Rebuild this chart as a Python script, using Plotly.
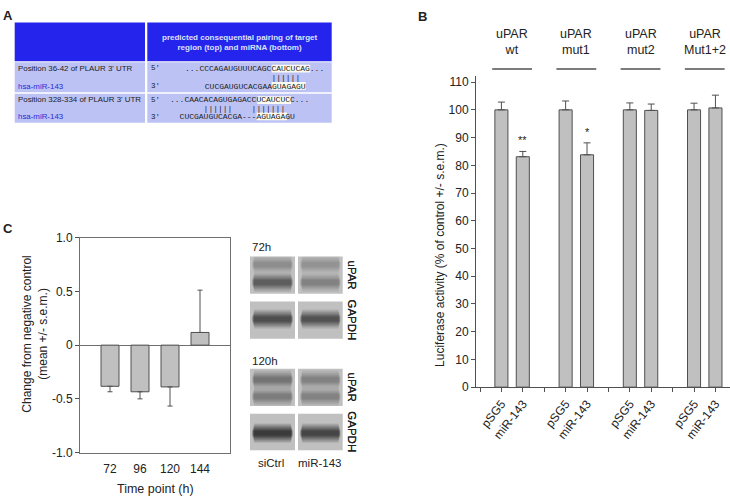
import plotly.graph_objects as go

# ---------------- data ----------------
# Panel B: luciferase reporter
groups = ["uPAR<br>wt", "uPAR<br>mut1", "uPAR<br>mut2", "uPAR<br>Mut1+2"]
treatments = ["pSG5", "miR-143"]
luc_ctrl = [100, 100, 100, 100]
luc_ctrl_err = [2.8, 3.2, 2.5, 2.4]
luc_mir = [83.1, 83.8, 99.8, 100.7]
luc_mir_err = [1.9, 4.3, 2.3, 4.6]
significance = ["**", "*", "", ""]
luc_yticks = [0, 10, 20, 30, 40, 50, 60, 70, 80, 90, 100, 110]

# Panel C: time course
time_points = ["72", "96", "120", "144"]
change = [-0.383, -0.434, -0.389, 0.118]
change_err = [0.051, 0.066, 0.178, 0.394]
change_yticks = [-1.0, -0.5, 0, 0.5, 1.0]

# Panel A: table text
table_header = "predicted consequential pairing of target<br>region (top) and miRNA (bottom)"
table_rows = [
    ("Position 36-42 of PLAUR 3' UTR", "hsa-miR-143",
     "...CCCAGAUGUUUCAGCCAUCUCAG...", "                  ||||||",
     "      CUCGAUGUCACGAAGUAGAGU"),
    ("Position 328-334 of PLAUR 3' UTR", "hsa-miR-143",
     "...CAACACAGUGAGACCUCAUCUCC...", "       ||||||    |||||||",
     "  CUCGAUGUCACGA---AGUAGAGU"),
]

# Blot labels
blot_times = ["72h", "120h"]
blot_lanes = ["siCtrl", "miR-143"]
blot_proteins = ["uPAR", "GAPDH"]

W, H = 730, 504
FONT = "Liberation Sans, Arial, sans-serif"
TXT = "#222222"


def px(x):
    return x / W


def py(y):
    return 1 - y / H


fig = go.Figure()

# ---------------- Panel B bars ----------------
x_ctrl = [3 * i + 1 for i in range(len(groups))]
x_mir = [3 * i + 2 for i in range(len(groups))]
bar_style = dict(marker=dict(color="#c0c0c0", line=dict(color="#505050", width=1)),
                 width=0.61, showlegend=False, hoverinfo="skip")
err_style = dict(type="data", symmetric=False, color="#505050", thickness=1, width=3.5)
fig.add_trace(go.Bar(x=x_ctrl, y=luc_ctrl, xaxis="x", yaxis="y",
                     error_y=dict(array=luc_ctrl_err, arrayminus=[0] * 4, **err_style),
                     **bar_style))
fig.add_trace(go.Bar(x=x_mir, y=luc_mir, xaxis="x", yaxis="y",
                     error_y=dict(array=luc_mir_err, arrayminus=[0] * 4, **err_style),
                     **bar_style))

tickvals_b = list(range(12))
ticktext_b = []
for i in range(12):
    r = i % 3
    ticktext_b.append("" if r == 0 else treatments[r - 1])

# ---------------- Panel C bars ----------------
err_plus = [e if v > 0 else 0 for v, e in zip(change, change_err)]
err_minus = [e if v < 0 else 0 for v, e in zip(change, change_err)]
fig.add_trace(go.Bar(x=list(range(len(time_points))), y=change, xaxis="x2", yaxis="y2",
                     marker=dict(color="#c0c0c0", line=dict(color="#505050", width=1)),
                     width=0.6, showlegend=False, hoverinfo="skip",
                     error_y=dict(type="data", symmetric=False, array=err_plus,
                                  arrayminus=err_minus, color="#505050",
                                  thickness=1, width=2.5)))

axis_font = dict(family=FONT, size=12, color=TXT)
fig.update_layout(
    width=W, height=H, margin=dict(l=0, r=0, t=0, b=0),
    paper_bgcolor="white", plot_bgcolor="white",
    barmode="overlay", font=dict(family=FONT, color=TXT),
    xaxis=dict(domain=[px(476), 1.0], range=[-0.187, 11.68], tickmode="array",
               tickvals=tickvals_b, ticktext=ticktext_b, tickangle=-52,
               ticks="outside", ticklen=4, tickcolor="#505050", showline=True,
               linecolor="#505050", linewidth=1, showgrid=False, zeroline=False,
               tickfont=axis_font, anchor="y"),
    yaxis=dict(domain=[py(391), py(71)], range=[0, 112.2], tickmode="array",
               tickvals=luc_yticks, ticks="outside", ticklen=4, tickcolor="#505050",
               showline=True, linecolor="#505050", linewidth=1, showgrid=False,
               zeroline=False, tickfont=axis_font, anchor="x"),
    xaxis2=dict(domain=[px(80), px(230)], range=[-1, 4], tickmode="array",
                tickvals=list(range(len(time_points))), ticktext=time_points,
                ticks="outside", ticklen=5, tickcolor="rgba(0,0,0,0)",
                showline=True, mirror=True, linecolor="#707070", linewidth=1,
                showgrid=False, zeroline=False, tickfont=axis_font, anchor="y2"),
    yaxis2=dict(domain=[py(458.3), py(237.3)], range=[-1, 1], tickmode="array",
                tickvals=change_yticks, ticktext=["-1.0", "-0.5", "0", "0.5", "1.0"],
                ticks="outside", ticklen=4, tickcolor="#505050", showline=True,
                mirror=True, linecolor="#707070", linewidth=1, showgrid=False,
                zeroline=True, zerolinecolor="#707070", zerolinewidth=1,
                tickfont=axis_font, anchor="x2"),
)

annotations = []
shapes = []


def text(x, y, s, size=12, color=TXT, xanchor="center", yanchor="middle", angle=0,
         family=FONT, xref="paper", yref="paper"):
    annotations.append(dict(x=x, y=y, text=s, showarrow=False, xref=xref, yref=yref,
                            xanchor=xanchor, yanchor=yanchor, textangle=angle,
                            font=dict(family=family, size=size, color=color)))


def rect(x0, y0, x1, y1, color, opacity=1.0, line=None):
    shapes.append(dict(type="rect", xref="paper", yref="paper", x0=px(x0), x1=px(x1),
                       y0=py(y1), y1=py(y0), fillcolor=color, opacity=opacity,
                       line=dict(width=0) if line is None else line, layer="above"))


# ---------------- Panel B annotations ----------------
for i, g in enumerate(groups):
    c = 3 * i + 1.5
    text(c, py(35.5), g, size=12.5, xref="x")
    shapes.append(dict(type="line", xref="x", yref="paper", x0=c - 0.93, x1=c + 0.93,
                       y0=py(63.7), y1=py(63.7), line=dict(color="#505050", width=1.5)))
    if significance[i]:
        text(x_mir[i], luc_mir[i] + luc_mir_err[i] + 1.2, significance[i], size=11,
             xref="x", yref="y", yanchor="bottom")
text(px(440), py(255), "Luciferase activity (% of control +/- s.e.m.)", size=12, angle=-90)

# ---------------- Panel C annotations ----------------
text(px(35), py(337), "Change from negative control<br>(mean +/- s.e.m.)", size=12, angle=-90)
text(px(155), py(496), "Time point (h)", size=12.5)

# panel letters
text(px(1), py(9), "<b>A</b>", size=13, xanchor="left")
text(px(416), py(10), "<b>B</b>", size=13, xanchor="left")
text(px(1), py(228), "<b>C</b>", size=13, xanchor="left")

# ---------------- Panel A table ----------------
BLUE = "#2424ec"
LAV = "#bcc3f4"
rect(14.7, 16, 145, 55.7, BLUE)
rect(147.3, 16, 331.7, 55.7, BLUE)
row_y = [(56.9, 87.6), (89.3, 119)]
for (y0, y1) in row_y:
    rect(14.7, y0, 145, y1, LAV)
    rect(147.3, y0, 331.7, y1, LAV)
text(px(239), py(36.5), "<b>" + table_header + "</b>", size=8, color="#dfe2ff")

MONO = "Liberation Mono, Courier New, monospace"
CW = 4.8  # px per char at size 8
seq_x = [183, 168.3]
bot_x = [202.7 - 6 * CW, 177.7 - 2 * CW]
hl = [((271.7, 310.2), (271.7, 305.7)), ((257.3, 291.0), (256.7, 287.0))]
for k, (pos, mir, top, pipes, bot) in enumerate(table_rows):
    y0, y1 = row_y[k]
    (ta, tb), (ba, bb) = hl[k]
    rect(ta, y0 + 2.5, tb, y0 + 10.5, "#fbfaf0")
    rect(ba, y1 - 10.5, bb, y1 - 2.5, "#fbfaf0")
    text(px(16), py(y0 + 6.3), pos, size=7.9, xanchor="left")
    text(px(16), py(y1 - 6), mir, size=7.9, color="#2828d8", xanchor="left")
    text(px(149), py(y0 + 6.3), "5'", size=7.5, family=MONO, xanchor="left")
    text(px(149), py(y1 - 6), "3'", size=7.5, family=MONO, xanchor="left")
    text(px(seq_x[k]), py(y0 + 6.3), top, size=8, family=MONO, xanchor="left")
    text(px(seq_x[k]), py((y0 + y1) / 2 + 0.5), pipes.replace(" ", "&nbsp;"), size=8,
         family=MONO, xanchor="left")
    text(px(bot_x[k]), py(y1 - 6), bot.replace(" ", "&nbsp;"), size=8, family=MONO,
         xanchor="left")

# ---------------- Blots (decorative) ----------------
band_intensity = {
    ("72h", "uPAR"): [[0.25, 0.60], [0.20, 0.32]],
    ("72h", "GAPDH"): [[0.75], [0.70]],
    ("120h", "uPAR"): [[0.42, 0.34], [0.32, 0.32]],
    ("120h", "GAPDH"): [[0.95], [0.85]],
}
blot_rows = {("72h", "uPAR"): (256.7, 295.0, [265.0, 283.3]),
             ("72h", "GAPDH"): (303.0, 341.3, [321.0]),
             ("120h", "uPAR"): (372.0, 410.3, [383.3, 400.7]),
             ("120h", "GAPDH"): (418.3, 456.0, [438.3])}
lane_x = [(250.0, 295.0), (298.0, 342.7)]
scales = [2.2, 1.95, 1.7, 1.5, 1.3, 1.12, 0.95, 0.8, 0.65, 0.5]
for key, (y0, y1, centers) in blot_rows.items():
    for li, (x0, x1) in enumerate(lane_x):
        rect(x0, y0, x1, y1, "#c0c0c0")
        for bc, inten in zip(centers, band_intensity[key][li]):
            for sc in scales:
                hh = 4.5 * sc
                inset = 1.5 + 1.2 * sc
                rect(x0 + inset, max(y0, bc - hh), x1 - inset, min(y1, bc + hh),
                     "#000000", opacity=inten * 0.11)
        text(px(351.7), py((y0 + y1) / 2), key[1], size=11.5, angle=90)

text(px(250), py(246.7), blot_times[0], size=11.5, xanchor="left")
text(px(250), py(364.3), blot_times[1], size=11.5, xanchor="left")
text(px(270.7), py(469.3), blot_lanes[0], size=11.5)
text(px(319), py(469.3), blot_lanes[1], size=11.5)

fig.update_layout(annotations=annotations, shapes=shapes)
fig.write_html("out.html", config={"displayModeBar": False},
               post_script="document.body.style.margin='0';document.body.style.overflow='hidden';")
